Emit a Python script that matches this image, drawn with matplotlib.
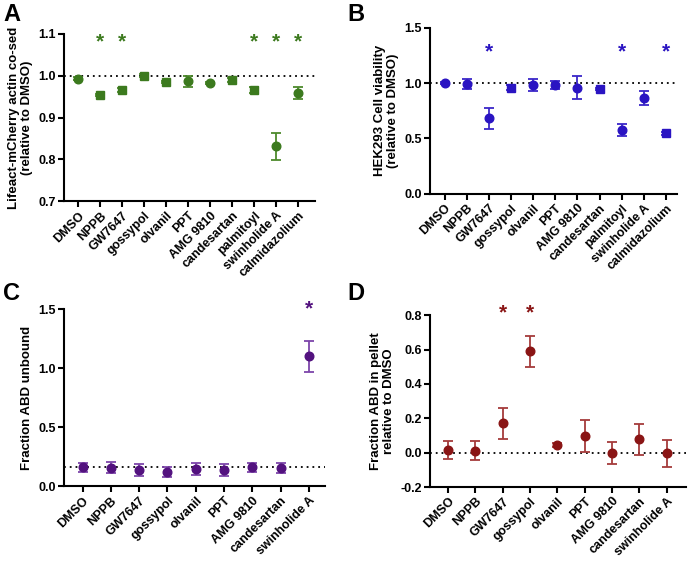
import numpy as np
import matplotlib
matplotlib.use("Agg")
import matplotlib.pyplot as plt

matplotlib.rcParams.update(
    {
        "font.family": ["Liberation Sans", "DejaVu Sans"],
        "font.weight": "bold",
        "axes.labelweight": "bold",
        "font.size": 9,
        "axes.spines.top": False,
        "axes.spines.right": False,
    }
)

# ---- data ----
drugs_ab = ["DMSO", "NPPB", "GW7647", "gossypol", "olvanil", "PPT", "AMG 9810",
            "candesartan", "palmitoyl", "swinholide A", "calmidazolium"]
drugs_cd = ["DMSO", "NPPB", "GW7647", "gossypol", "olvanil", "PPT", "AMG 9810",
            "candesartan", "swinholide A"]

a_mean = [0.993, 0.954, 0.965, 1.000, 0.985, 0.987, 0.982, 0.990, 0.966, 0.831, 0.959]
a_err = [0.003, 0.003, 0.005, 0.003, 0.003, 0.013, 0.003, 0.005, 0.007, 0.032, 0.015]
a_marker = ["o", "s", "s", "s", "s", "o", "o", "s", "s", "o", "o"]
a_stars = ["NPPB", "GW7647", "palmitoyl", "swinholide A", "calmidazolium"]

b_mean = [1.000, 0.99, 0.68, 0.958, 0.985, 0.98, 0.958, 0.949, 0.578, 0.867, 0.545]
b_err = [0.01, 0.045, 0.095, 0.02, 0.055, 0.035, 0.105, 0.01, 0.054, 0.063, 0.01]
b_marker = ["o", "o", "o", "s", "o", "o", "o", "s", "o", "o", "s"]
b_stars = ["GW7647", "palmitoyl", "calmidazolium"]

c_mean = [0.161, 0.160, 0.138, 0.121, 0.150, 0.141, 0.161, 0.158, 1.099]
c_err = [0.04, 0.045, 0.05, 0.04, 0.05, 0.05, 0.04, 0.04, 0.13]
c_stars = ["swinholide A"]

d_mean = [0.018, 0.012, 0.170, 0.590, 0.047, 0.098, 0.000, 0.078, -0.003]
d_err = [0.052, 0.057, 0.090, 0.092, 0.012, 0.094, 0.064, 0.090, 0.079]
d_stars = ["GW7647", "gossypol"]


def panel(fig, rect, labels, mean, err, markers, stars, star_y, ref,
          color, ecolor, ylim, yticks, ylabel, xlim):
    ax = fig.add_axes(rect)
    x = np.arange(len(labels))
    ax.axhline(ref, color="black", ls=(0, (1, 2.2)), lw=1.3, zorder=1)
    ax.errorbar(x, mean, yerr=err, fmt="none", ecolor=ecolor, elinewidth=1.3,
                capsize=3.5, capthick=1.3, zorder=2)
    for xi, m, mk in zip(x, mean, markers):
        ax.plot(xi, m, marker=mk, color=color, ms=6.2 if mk == "o" else 5.6,
                ls="none", zorder=3)
    for s in stars:
        ax.text(labels.index(s), star_y, "*", color=color, ha="center", va="center",
                fontsize=15, fontweight="bold")
    ax.set_xlim(*xlim)
    ax.set_ylim(*ylim)
    ax.set_yticks(yticks)
    ax.set_yticklabels([f"{t:.1f}" for t in yticks])
    ax.set_xticks(x)
    ax.set_xticklabels(labels, rotation=45, ha="right", rotation_mode="anchor")
    ax.set_ylabel(ylabel, fontsize=9.5, linespacing=1.1)
    for sp in ("left", "bottom"):
        ax.spines[sp].set_linewidth(1.5)
    ax.tick_params(width=1.5, length=4, labelsize=9, pad=2)
    return ax


fig = plt.figure(figsize=(6.88, 5.65), dpi=100)

panel(fig, [0.093, 0.644, 0.365, 0.296], drugs_ab, a_mean, a_err, a_marker,
      a_stars, 1.08, 1.0, "#3c7a1e", "#4d8a2c", (0.7, 1.1), [0.7, 0.8, 0.9, 1.0, 1.1],
      "Lifeact-mCherry actin co-sed\n(relative to DMSO)", (-0.64, 10.77))
panel(fig, [0.625, 0.657, 0.359, 0.294], drugs_ab, b_mean, b_err, b_marker,
      b_stars, 1.28, 1.0, "#2a14c2", "#3a26c8", (0.0, 1.5), [0.0, 0.5, 1.0, 1.5],
      "HEK293 Cell viability\n(relative to DMSO)", (-0.66, 10.5))
panel(fig, [0.093, 0.139, 0.379, 0.314], drugs_cd, c_mean, c_err, ["o"] * 9,
      c_stars, 1.5, 0.161, "#53127f", "#7d45aa", (0.0, 1.5), [0.0, 0.5, 1.0, 1.5],
      "Fraction ABD unbound", (-0.66, 8.56))
panel(fig, [0.625, 0.138, 0.372, 0.304], drugs_cd, d_mean, d_err, ["o"] * 9,
      d_stars, 0.815, 0.0, "#8a1515", "#a53b3b", (-0.2, 0.8),
      [-0.2, 0.0, 0.2, 0.4, 0.6, 0.8],
      "Fraction ABD in pellet\nrelative to DMSO", (-0.66, 8.7))

for letter, (lx, ly) in zip("ABCD", [(0.005, 0.995), (0.505, 0.995), (0.005, 0.5), (0.505, 0.5)]):
    fig.text(lx, ly, letter, fontsize=17, fontweight="bold", ha="left", va="top")

fig.savefig("out.png", dpi=100)
